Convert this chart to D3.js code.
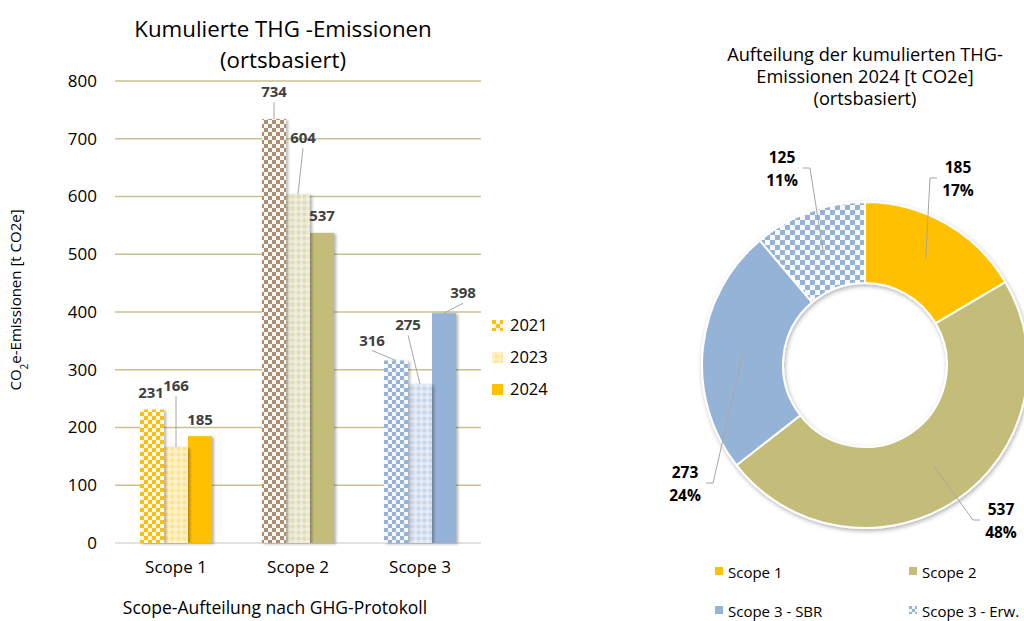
<!DOCTYPE html>
<html>
<head>
<meta charset="utf-8">
<script src="https://cdn.jsdelivr.net/npm/d3@7"></script>
<style>
  html, body { margin: 0; padding: 0; background: #fff; }
  svg { display: block; font-family: "Open Sans", sans-serif; }
</style>
</head>
<body>
<div id="chart"></div>
<script>
// bar chart data
const categories = ["Scope 1", "Scope 2", "Scope 3"];
const years = ["2021", "2023", "2024"];
const values2021 = [231, 734, 316];
const values2023 = [166, 604, 275];
const values2024 = [185, 537, 398];
const yTicks = [0, 100, 200, 300, 400, 500, 600, 700, 800];

// donut data (2024)
const pieLabels = ["Scope 1", "Scope 2", "Scope 3 - SBR", "Scope 3 - Erw."];
const pieValues = [185, 537, 273, 125];

const W = 1024, H = 621;
const svg = d3.select("#chart").append("svg").attr("width", W).attr("height", H);
const defs = svg.append("defs");

const solid = ["#ffc000", "#c4bd7a", "#95b3d7"];
const checkCol = ["#ffc000", "#ad8f70", "#95b3d7"];
const lightCol = ["#ffe38a", "#dedbb5", "#c6d6ec"];

function checker(id, color, cell) {
  const p = defs.append("pattern").attr("id", id).attr("patternUnits", "userSpaceOnUse")
    .attr("width", cell * 2).attr("height", cell * 2);
  p.append("rect").attr("width", cell * 2).attr("height", cell * 2).attr("fill", "#f7f7f7");
  p.append("rect").attr("width", cell).attr("height", cell).attr("fill", color);
  p.append("rect").attr("x", cell).attr("y", cell).attr("width", cell).attr("height", cell).attr("fill", color);
}
function plaid(id, color) {
  const p = defs.append("pattern").attr("id", id).attr("patternUnits", "userSpaceOnUse")
    .attr("width", 6).attr("height", 6);
  p.append("rect").attr("width", 6).attr("height", 6).attr("fill", color);
  p.append("rect").attr("width", 6).attr("height", 3).attr("fill", "#fff").attr("opacity", 0.35);
  p.append("rect").attr("width", 3).attr("height", 6).attr("fill", "#fff").attr("opacity", 0.35);
}
categories.forEach((c, i) => {
  checker("chk" + i, checkCol[i], 4);
  plaid("pl" + i, lightCol[i]);
});
checker("chkPie", "#95b3d7", 5);
checker("chkSmall", "#95b3d7", 3);

const sh = defs.append("filter").attr("id", "shadow").attr("x", "-30%").attr("y", "-30%").attr("width", "160%").attr("height", "160%");
sh.append("feDropShadow").attr("dx", 2).attr("dy", 1).attr("stdDeviation", 1.6).attr("flood-color", "#000").attr("flood-opacity", 0.3);
const sh2 = defs.append("filter").attr("id", "shadow2").attr("x", "-20%").attr("y", "-20%").attr("width", "140%").attr("height", "140%");
sh2.append("feDropShadow").attr("dx", 1).attr("dy", 2).attr("stdDeviation", 2).attr("flood-color", "#000").attr("flood-opacity", 0.3);

// ---------- bar chart ----------
const plot = { left: 115, right: 481, top: 81, bottom: 543 };
const x = d3.scaleBand().domain(categories).range([plot.left, plot.right]).paddingInner(0.41).paddingOuter(0.205);
const xi = d3.scaleBand().domain(years).range([0, x.bandwidth()]);
const y = d3.scaleLinear().domain([0, 800]).range([plot.bottom, plot.top]);

const titleG = svg.append("g").attr("font-size", 22.3).attr("text-anchor", "middle").attr("fill", "#000");
titleG.append("text").attr("x", 283).attr("y", 37).text("Kumulierte THG -Emissionen");
titleG.append("text").attr("x", 283).attr("y", 68).text("(ortsbasiert)");

svg.append("g").selectAll("line").data(yTicks).join("line")
  .attr("x1", plot.left).attr("x2", plot.right)
  .attr("y1", d => y(d)).attr("y2", d => y(d))
  .attr("stroke", d => d === 0 ? "#d9d9d9" : "#c9c290").attr("stroke-width", 1.4);

const yAxis = svg.append("g").attr("transform", `translate(${plot.left},0)`)
  .call(d3.axisLeft(y).tickValues(yTicks).tickSize(0).tickPadding(18));
yAxis.select(".domain").remove();
yAxis.selectAll("text").attr("font-size", 17).attr("font-family", "Open Sans").attr("fill", "#000");

const xAxis = svg.append("g").attr("transform", `translate(0,${plot.bottom})`)
  .call(d3.axisBottom(x).tickSize(0).tickPadding(18));
xAxis.select(".domain").remove();
xAxis.selectAll("text").attr("font-size", 17).attr("font-family", "Open Sans").attr("fill", "#000");

const yl = svg.append("text").attr("transform", "translate(21,300) rotate(-90)")
  .attr("text-anchor", "middle").attr("font-size", 15).attr("fill", "#000");
yl.append("tspan").text("CO");
yl.append("tspan").attr("font-size", 10).attr("baseline-shift", "sub").text("2");
yl.append("tspan").text("e-Emissionen [t CO2e]");

svg.append("text").attr("x", 275).attr("y", 614).attr("text-anchor", "middle")
  .attr("font-size", 17.5).attr("fill", "#000").text("Scope-Aufteilung nach GHG-Protokoll");

const series = [values2021, values2023, values2024];
const bars = [];
series.forEach((vals, s) => vals.forEach((v, i) => bars.push({ s, i, v })));
function barFill(d) {
  return d.s === 0 ? `url(#chk${d.i})` : d.s === 1 ? `url(#pl${d.i})` : solid[d.i];
}
svg.append("g").selectAll("rect").data(bars.slice().reverse()).join("rect")
  .attr("x", d => x(categories[d.i]) + xi(years[d.s]))
  .attr("y", d => y(d.v))
  .attr("width", xi.bandwidth())
  .attr("height", d => y(0) - y(d.v))
  .attr("fill", barFill)
  .attr("filter", "url(#shadow)");

// label offsets [dx, dy(baseline), leader] relative to bar top centre
const barLabelPos = [
  [[-1, -12, 0], [0, -22, 1], [-24, -15, 1]],
  [[0, -56, 1], [5, -51, 1], [-12, -54, 1]],
  [[0, -11, 0], [0, -12, 0], [19, -15, 1]]
];
const lab = svg.append("g");
bars.forEach(d => {
  const cx = x(categories[d.i]) + xi(years[d.s]) + xi.bandwidth() / 2;
  const ty = y(d.v);
  const [dx, dy, leader] = barLabelPos[d.s][d.i];
  if (leader) {
    lab.append("line").attr("x1", cx + dx).attr("y1", ty + dy + 5).attr("x2", cx).attr("y2", ty)
      .attr("stroke", "#a6a6a6").attr("stroke-width", 1);
  }
  lab.append("text").attr("x", cx + dx).attr("y", ty + dy).attr("text-anchor", "middle")
    .attr("font-size", 15).attr("font-weight", "bold").attr("fill", "#404040").text(d.v);
});

const leg = svg.append("g");
years.forEach((yr, s) => {
  const g = leg.append("g").attr("transform", `translate(492,${320 + s * 32})`);
  g.append("rect").attr("width", 11).attr("height", 11)
    .attr("fill", s === 0 ? "url(#chk0)" : s === 1 ? "url(#pl0)" : solid[0]);
  g.append("text").attr("x", 18).attr("y", 11).attr("font-size", 16.5).attr("fill", "#000").text(yr);
});

// ---------- donut ----------
const pc = { x: 865, y: 365 };
const rOut = 163, rIn = 82;
const total = d3.sum(pieValues);
const pieFill = ["#ffc000", "#c4bd7a", "#95b3d7", "url(#chkPie)"];
const pie = d3.pie().sort(null).value(d => d)(pieValues);
const arc = d3.arc().innerRadius(rIn).outerRadius(rOut);
const arcMid = d3.arc().innerRadius((rIn + rOut) / 2).outerRadius((rIn + rOut) / 2);

const dg = svg.append("g").attr("transform", `translate(${pc.x},${pc.y})`);
dg.append("g").attr("filter", "url(#shadow2)").selectAll("path").data(pie).join("path")
  .attr("d", arc).attr("fill", (d, i) => pieFill[i]).attr("stroke", "#fff").attr("stroke-width", 2);

const pt = svg.append("g").attr("font-size", 18.2).attr("text-anchor", "middle").attr("fill", "#000");
pt.append("text").attr("x", 865).attr("y", 61).text("Aufteilung der kumulierten THG-");
pt.append("text").attr("x", 865).attr("y", 83).text("Emissionen 2024 [t CO2e]");
pt.append("text").attr("x", 865).attr("y", 105).text("(ortsbasiert)");

// label centre offsets from donut centre (first line baseline)
const pieLabelPos = [[93, -192], [136, 150], [-180, 113], [-83, -202]];
pie.forEach((d, i) => {
  const [c0, c1] = arcMid.centroid(d);
  const lx = pieLabelPos[i][0], ly = pieLabelPos[i][1];
  const side = lx > c0 ? -1 : 1;
  const sx = lx + side * 21, ex = lx + side * 28, yy = ly + 5;
  dg.append("polyline").attr("points", `${sx},${yy} ${ex},${yy} ${c0},${c1}`)
    .attr("fill", "none").attr("stroke", "#a6a6a6").attr("stroke-width", 1);
  const t = dg.append("text").attr("text-anchor", "middle").attr("font-size", 15.5)
    .attr("font-weight", "bold").attr("fill", "#000");
  t.append("tspan").attr("x", lx).attr("y", ly).text(d.data);
  t.append("tspan").attr("x", lx).attr("y", ly + 23).text(Math.round(d.data / total * 100) + "%");
});

const pl = svg.append("g");
const pieLegPos = [[715, 567], [909, 567], [715, 606], [909, 606]];
pieLabels.forEach((name, i) => {
  const g = pl.append("g").attr("transform", `translate(${pieLegPos[i][0]},${pieLegPos[i][1]})`);
  g.append("rect").attr("width", 8).attr("height", 8).attr("fill", i === 3 ? "url(#chkSmall)" : pieFill[i]);
  g.append("text").attr("x", 13).attr("y", 11).attr("font-size", 15).attr("fill", "#000").text(name);
});
</script>
</body>
</html>
